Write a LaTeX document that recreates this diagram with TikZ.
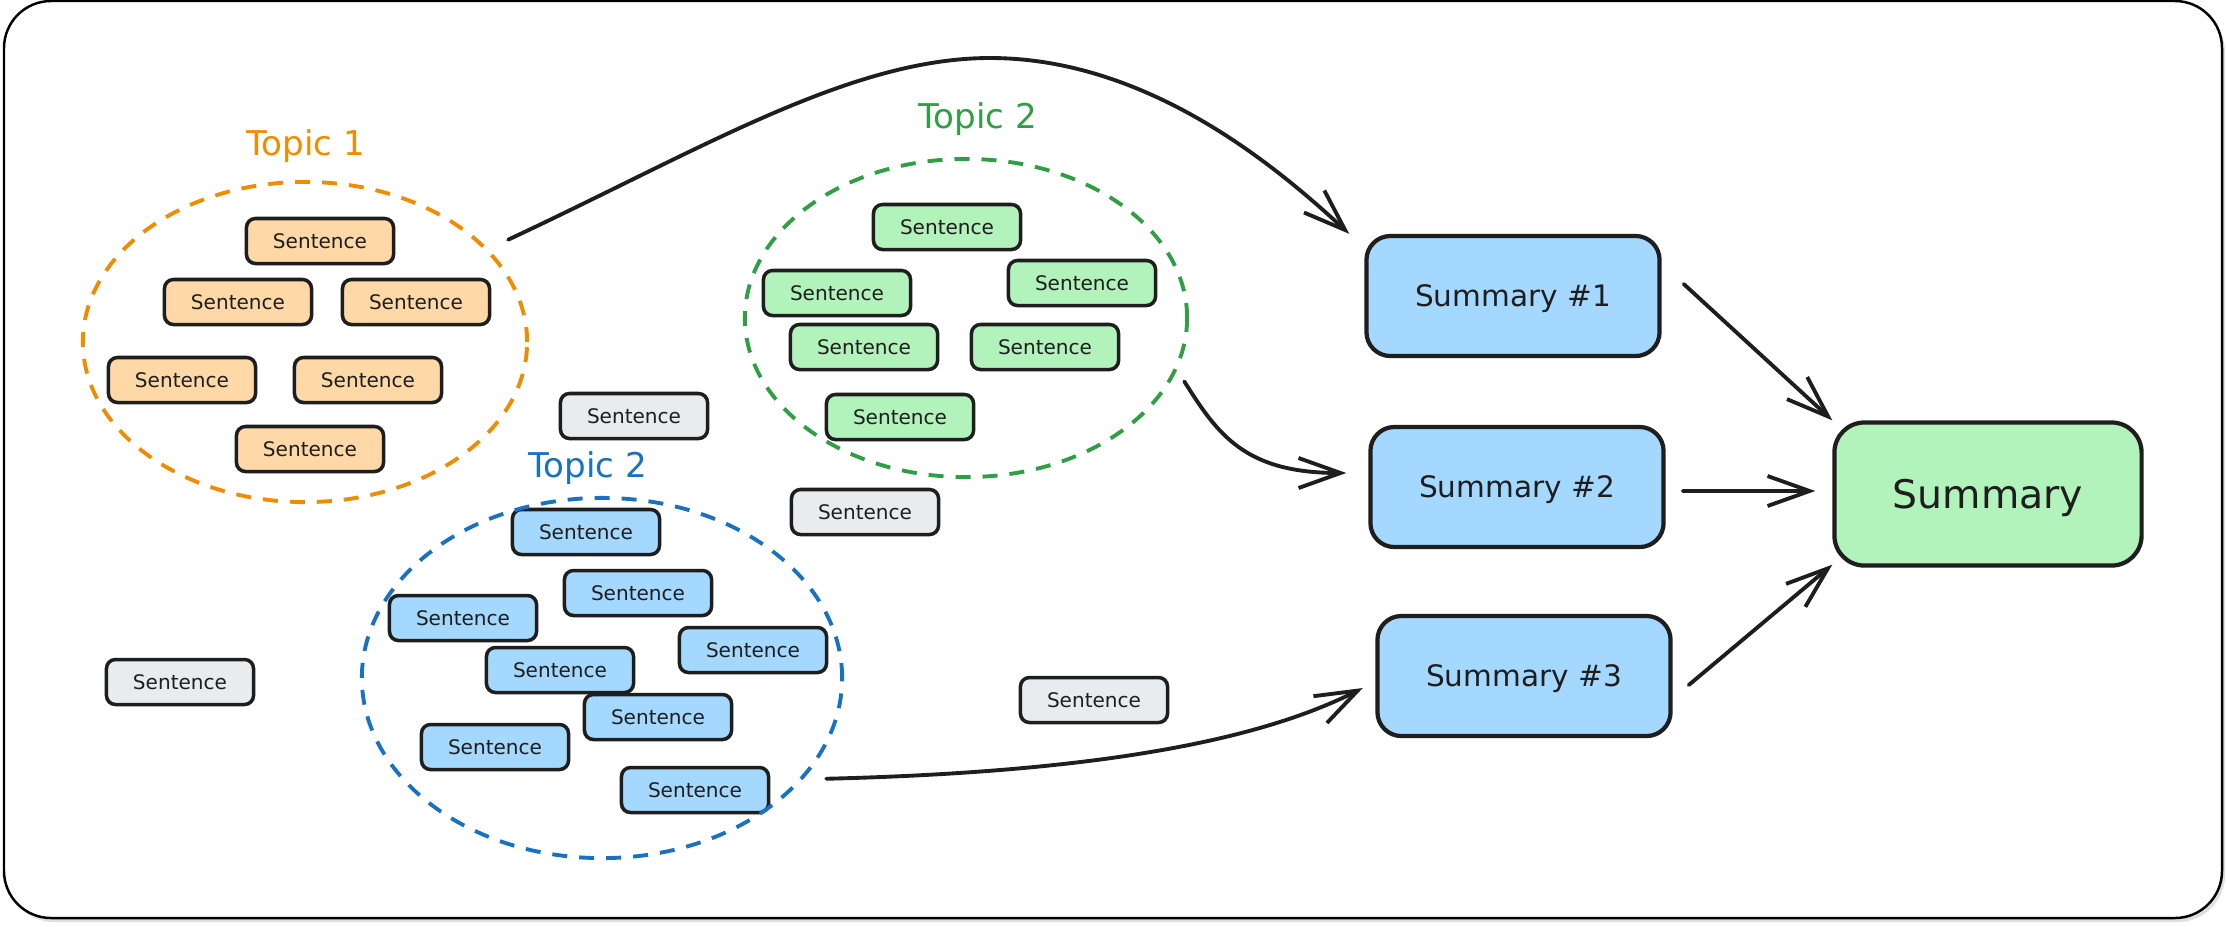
\documentclass[tikz,border=0pt]{standalone}
\usepackage{fontspec}
\setmainfont{DejaVu Sans}
\usetikzlibrary{arrows.meta,shapes.geometric}
\definecolor{ink}{HTML}{1E1E1E}
\definecolor{orst}{HTML}{F08C00}
\definecolor{orfill}{HTML}{FFD8A8}
\definecolor{grst}{HTML}{2F9E44}
\definecolor{grfill}{HTML}{B2F2BB}
\definecolor{blst}{HTML}{1971C2}
\definecolor{blfill}{HTML}{A5D8FF}
\definecolor{gyfill}{HTML}{E9ECEF}
\begin{document}
\begin{tikzpicture}[x=0.01cm,y=-0.01cm,
  sbox/.style={draw=ink, line width=1pt, rounded corners=0.09cm, minimum width=1.47cm, minimum height=0.45cm, inner sep=0pt, font=\fontsize{5.7}{6}\selectfont, text height=4.2pt, text depth=0pt, text=ink},
  orbox/.style={sbox, fill=orfill},
  grbox/.style={sbox, fill=grfill},
  blbox/.style={sbox, fill=blfill},
  gybox/.style={sbox, fill=gyfill},
  sumbox/.style={draw=ink, line width=1.2pt, rounded corners=0.24cm, fill=blfill, minimum width=2.93cm, minimum height=1.2cm, inner sep=0pt, font=\fontsize{8.4}{10}\selectfont, text height=6.1pt, text depth=0pt, text=ink},
  finbox/.style={draw=ink, line width=1.2pt, rounded corners=0.3cm, fill=grfill, minimum width=3.07cm, minimum height=1.43cm, inner sep=0pt, font=\fontsize{11.2}{13}\selectfont, text height=8.2pt, text depth=0pt, text=ink},
  topic/.style={font=\fontsize{9.7}{11}\selectfont, anchor=base, inner sep=0pt},
  grp/.style={ellipse, line width=1.1pt, dash pattern=on 0.15cm off 0.12cm, inner sep=0pt},
  arr/.style={draw=ink, line width=1.1pt, line cap=round, -{Straight Barb[length=0.42cm,width=0.3cm]}},
]
\useasboundingbox (0,0) rectangle (2227,926);
% frame
\fill[black!12, rounded corners=0.47cm] (7,5) rectangle (2225,922);
\draw[fill=white, line width=0.7pt, rounded corners=0.47cm] (4,1) rectangle (2222,918);

% topic labels
\node[topic, text=orst] (t1) at (306,155) {Topic 1};
\node[topic, text=blst] (t2b) at (588,477) {Topic 2};
\node[topic, text=grst] (t2g) at (978,128) {Topic 2};

% orange sentences
\node[orbox] (o1) at (320,241) {Sentence};
\node[orbox] (o2) at (238,302) {Sentence};
\node[orbox] (o3) at (416,302) {Sentence};
\node[orbox] (o4) at (182,380) {Sentence};
\node[orbox] (o5) at (368,380) {Sentence};
\node[orbox] (o6) at (310,449) {Sentence};

% green sentences
\node[grbox] (g1) at (947,227) {Sentence};
\node[grbox] (g2) at (1082,283) {Sentence};
\node[grbox] (g3) at (837,293) {Sentence};
\node[grbox] (g4) at (864,347) {Sentence};
\node[grbox] (g5) at (1045,347) {Sentence};
\node[grbox] (g6) at (900,417) {Sentence};

% blue sentences
\node[blbox] (b1) at (586,532) {Sentence};
\node[blbox] (b2) at (638,593) {Sentence};
\node[blbox] (b3) at (463,618) {Sentence};
\node[blbox] (b4) at (753,650) {Sentence};
\node[blbox] (b5) at (560,670) {Sentence};
\node[blbox] (b6) at (658,717) {Sentence};
\node[blbox] (b7) at (495,747) {Sentence};
\node[blbox] (b8) at (695,790) {Sentence};

% grey sentences
\node[gybox] (x1) at (634,416) {Sentence};
\node[gybox] (x2) at (865,512) {Sentence};
\node[gybox] (x3) at (180,682) {Sentence};
\node[gybox] (x4) at (1094,700) {Sentence};

% topic groups
\node[grp, draw=orst, minimum width=4.44cm, minimum height=3.2cm] (e1) at (305,342) {};
\node[grp, draw=grst, minimum width=4.42cm, minimum height=3.18cm] (e2) at (966,318) {};
\node[grp, draw=blst, minimum width=4.8cm, minimum height=3.6cm] (e3) at (602,678) {};

% summaries
\node[sumbox] (s1) at (1513,296) {Summary \#1};
\node[sumbox] (s2) at (1517,487) {Summary \#2};
\node[sumbox] (s3) at (1524,676) {Summary \#3};
\node[finbox] (sum) at (1988,494) {Summary};

% connectors
\draw[arr] ([shift={(0.2cm,0.09cm)}]e1.27) .. controls (700,150) and (850,58) .. (990,58) .. controls (1150,58) and (1280,170) .. ([xshift=-0.15cm]s1.north west);
\draw[arr] ([shift={(0.11cm,-0.04cm)}]e2.-16) .. controls (1218,435) and (1245,473) .. ([xshift=-0.22cm,yshift=0.14cm]s2.west);
\draw[arr] ([shift={(0.16cm,-0.08cm)}]e3.-24) .. controls (1100,772) and (1260,740) .. ([xshift=-0.125cm,yshift=-0.12cm]s3.west);
\draw[arr] ([xshift=0.22cm,yshift=0.12cm]s1.east) -- (sum.north west);
\draw[arr] ([xshift=0.17cm,yshift=-0.04cm]s2.east) -- ([xshift=-0.17cm,yshift=0.03cm]sum.west);
\draw[arr] ([xshift=0.16cm,yshift=-0.09cm]s3.east) -- ([yshift=0.03cm]sum.south west);
\end{tikzpicture}
\end{document}
